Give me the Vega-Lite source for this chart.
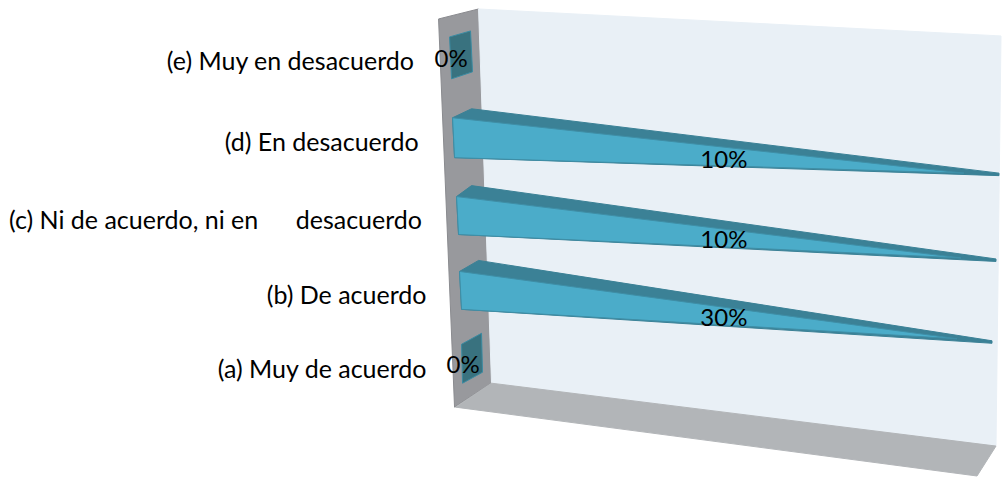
{
  "$schema": "https://vega.github.io/schema/vega-lite/v6.json",
  "autosize": {"type": "fit", "contains": "padding"},
  "width": 1002,
  "height": 477,
  "padding": 0,
  "background": "white",
  "config": {"view": {"stroke": null}},
  "datasets": {
    "planes": [
      {"part": "side", "o": 1, "x": 439, "y": 19},
      {"part": "side", "o": 2, "x": 479, "y": 9},
      {"part": "side", "o": 3, "x": 492, "y": 384},
      {"part": "side", "o": 4, "x": 455, "y": 408},
      {"part": "side", "o": 5, "x": 439, "y": 19},
      {"part": "back", "o": 1, "x": 479, "y": 9},
      {"part": "back", "o": 2, "x": 1002, "y": 36},
      {"part": "back", "o": 3, "x": 997, "y": 447},
      {"part": "back", "o": 4, "x": 492, "y": 384},
      {"part": "back", "o": 5, "x": 479, "y": 9},
      {"part": "floor", "o": 1, "x": 492, "y": 384},
      {"part": "floor", "o": 2, "x": 997, "y": 447},
      {"part": "floor", "o": 3, "x": 978, "y": 477},
      {"part": "floor", "o": 4, "x": 456, "y": 408},
      {"part": "floor", "o": 5, "x": 492, "y": 384}
    ],
    "bars": [
      {"bar": "e", "part": "flat", "o": 1, "x": 450, "y": 37},
      {"bar": "e", "part": "flat", "o": 2, "x": 471, "y": 31},
      {"bar": "e", "part": "flat", "o": 3, "x": 473, "y": 72},
      {"bar": "e", "part": "flat", "o": 4, "x": 452, "y": 79},
      {"bar": "e", "part": "flat", "o": 5, "x": 450, "y": 37},
      {"bar": "d", "part": "top", "o": 1, "x": 453, "y": 118},
      {"bar": "d", "part": "top", "o": 2, "x": 472, "y": 109},
      {"bar": "d", "part": "top", "o": 3, "x": 1000, "y": 173.5},
      {"bar": "d", "part": "top", "o": 4, "x": 1000, "y": 176},
      {"bar": "d", "part": "top", "o": 5, "x": 455, "y": 158},
      {"bar": "d", "part": "top", "o": 6, "x": 453, "y": 118},
      {"bar": "d", "part": "front", "o": 1, "x": 453, "y": 118},
      {"bar": "d", "part": "front", "o": 2, "x": 965, "y": 173.5},
      {"bar": "d", "part": "front", "o": 3, "x": 455, "y": 158},
      {"bar": "d", "part": "front", "o": 4, "x": 453, "y": 118},
      {"bar": "c", "part": "top", "o": 1, "x": 457, "y": 197},
      {"bar": "c", "part": "top", "o": 2, "x": 472, "y": 186},
      {"bar": "c", "part": "top", "o": 3, "x": 997, "y": 259.5},
      {"bar": "c", "part": "top", "o": 4, "x": 997, "y": 262},
      {"bar": "c", "part": "top", "o": 5, "x": 459, "y": 235},
      {"bar": "c", "part": "top", "o": 6, "x": 457, "y": 197},
      {"bar": "c", "part": "front", "o": 1, "x": 457, "y": 197},
      {"bar": "c", "part": "front", "o": 2, "x": 962, "y": 258.5},
      {"bar": "c", "part": "front", "o": 3, "x": 459, "y": 235},
      {"bar": "c", "part": "front", "o": 4, "x": 457, "y": 197},
      {"bar": "b", "part": "top", "o": 1, "x": 460, "y": 272},
      {"bar": "b", "part": "top", "o": 2, "x": 479, "y": 261},
      {"bar": "b", "part": "top", "o": 3, "x": 993, "y": 341.5},
      {"bar": "b", "part": "top", "o": 4, "x": 993, "y": 344},
      {"bar": "b", "part": "top", "o": 5, "x": 462, "y": 310},
      {"bar": "b", "part": "top", "o": 6, "x": 460, "y": 272},
      {"bar": "b", "part": "front", "o": 1, "x": 460, "y": 272},
      {"bar": "b", "part": "front", "o": 2, "x": 958, "y": 339.5},
      {"bar": "b", "part": "front", "o": 3, "x": 462, "y": 310},
      {"bar": "b", "part": "front", "o": 4, "x": 460, "y": 272},
      {"bar": "a", "part": "flat", "o": 1, "x": 462, "y": 345},
      {"bar": "a", "part": "flat", "o": 2, "x": 482, "y": 334},
      {"bar": "a", "part": "flat", "o": 3, "x": 483, "y": 373},
      {"bar": "a", "part": "flat", "o": 4, "x": 463, "y": 384},
      {"bar": "a", "part": "flat", "o": 5, "x": 462, "y": 345}
    ],
    "categories": [
      {"label": "(e) Muy en desacuerdo", "x": 167, "y": 62},
      {"label": "(d) En desacuerdo", "x": 225, "y": 143},
      {"label": "(c) Ni de acuerdo, ni en", "x": 9, "y": 221},
      {"label": "desacuerdo", "x": 296, "y": 221},
      {"label": "(b) De acuerdo", "x": 267, "y": 297},
      {"label": "(a) Muy de acuerdo", "x": 218, "y": 371}
    ],
    "shares": [
      {"value": 0, "x": 435, "y": 60},
      {"value": 0.1, "x": 701, "y": 161},
      {"value": 0.1, "x": 701, "y": 242},
      {"value": 0.3, "x": 701, "y": 320},
      {"value": 0, "x": 447, "y": 367}
    ]
  },
  "layer": [
    {
      "data": {"name": "planes"},
      "mark": {"type": "line", "strokeWidth": 1, "strokeJoin": "round", "clip": false},
      "encoding": {
        "x": {"field": "x", "type": "quantitative", "scale": {"domain": [0, 1002]}, "axis": null},
        "y": {"field": "y", "type": "quantitative", "scale": {"domain": [477, 0]}, "axis": null},
        "order": {"field": "o"},
        "fill": {"field": "part", "type": "nominal", "legend": null, "scale": {"domain": ["side", "back", "floor", "top", "front", "flat"], "range": ["#98999d", "#e9f0f6", "#b2b5b8", "#3b8196", "#4bacc9", "#39727f"]}},
        "stroke": {"field": "part", "type": "nominal", "legend": null, "scale": {"domain": ["side", "back", "floor", "top", "front", "flat"], "range": ["#8a8b8f", "#e9f0f6", "#b2b5b8", "#3b8196", "#3f8ea6", "#3b8ba2"]}}
      }
    },
    {
      "data": {"name": "bars"},
      "mark": {"type": "line", "strokeWidth": 1, "strokeJoin": "round", "clip": false},
      "encoding": {
        "x": {"field": "x", "type": "quantitative", "scale": {"domain": [0, 1002]}, "axis": null},
        "y": {"field": "y", "type": "quantitative", "scale": {"domain": [477, 0]}, "axis": null},
        "order": {"field": "o"},
        "detail": {"field": "bar"},
        "fill": {"field": "part", "type": "nominal", "legend": null, "scale": {"domain": ["side", "back", "floor", "top", "front", "flat"], "range": ["#98999d", "#e9f0f6", "#b2b5b8", "#3b8196", "#4bacc9", "#39727f"]}},
        "stroke": {"field": "part", "type": "nominal", "legend": null, "scale": {"domain": ["side", "back", "floor", "top", "front", "flat"], "range": ["#8a8b8f", "#e9f0f6", "#b2b5b8", "#3b8196", "#3f8ea6", "#3b8ba2"]}}
      }
    },
    {
      "data": {"name": "categories"},
      "mark": {"type": "text", "align": "left", "baseline": "middle", "font": "Lato", "fontSize": 25, "color": "#000000"},
      "encoding": {
        "x": {"field": "x", "type": "quantitative", "scale": {"domain": [0, 1002]}, "axis": null},
        "y": {"field": "y", "type": "quantitative", "scale": {"domain": [477, 0]}, "axis": null},
        "text": {"field": "label"}
      }
    },
    {
      "data": {"name": "shares"},
      "mark": {"type": "text", "align": "left", "baseline": "middle", "font": "Lato", "fontSize": 24, "color": "#000000"},
      "encoding": {
        "x": {"field": "x", "type": "quantitative", "scale": {"domain": [0, 1002]}, "axis": null},
        "y": {"field": "y", "type": "quantitative", "scale": {"domain": [477, 0]}, "axis": null},
        "text": {"field": "value", "type": "quantitative", "format": ".0%"}
      }
    }
  ]
}
